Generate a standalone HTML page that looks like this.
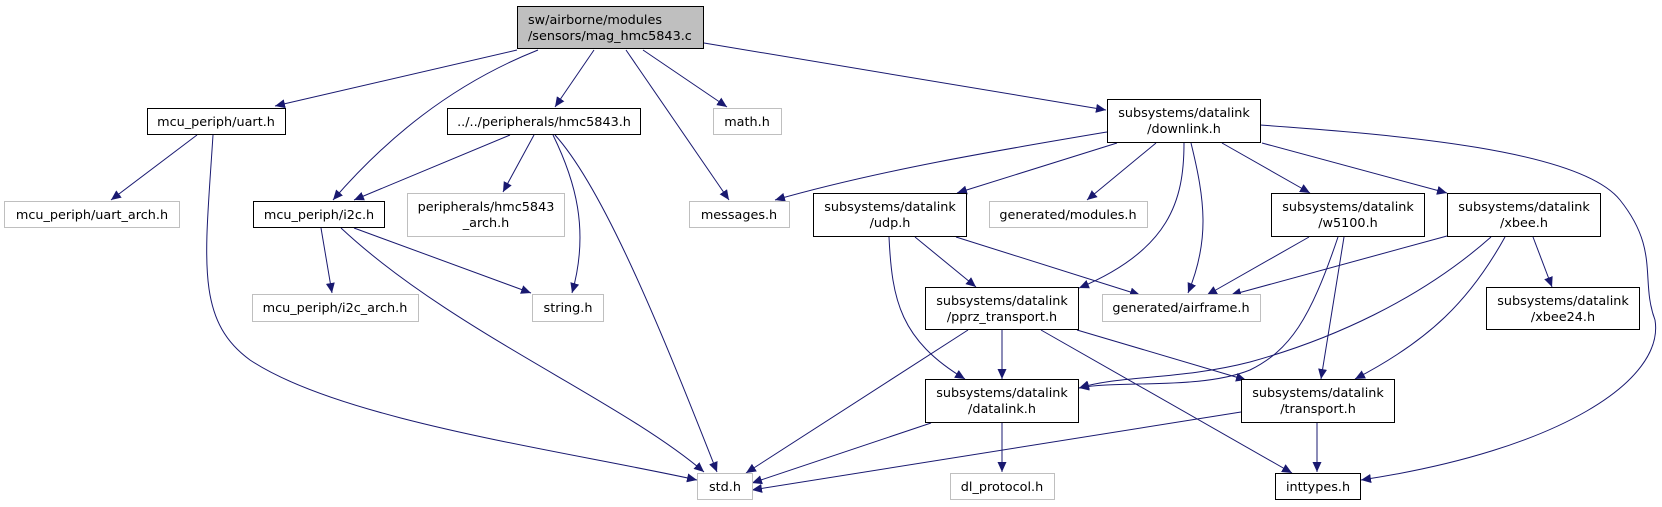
<!DOCTYPE html>
<html><head><meta charset="utf-8"><style>
html,body{margin:0;padding:0;background:#fff;}
svg{display:block;}
text{font-family:"DejaVu Sans","Liberation Sans",sans-serif;font-size:12.8px;fill:#000;}
</style></head><body>
<svg width="1662" height="507" viewBox="0 0 1662 507" xmlns="http://www.w3.org/2000/svg">
<defs>
<marker id="a" markerUnits="userSpaceOnUse" markerWidth="11" markerHeight="9" refX="10" refY="4.5" orient="auto">
<path d="M0,0 L10,4.5 L0,9 Z" fill="#191970"/>
</marker>
</defs>
<g fill="none" stroke="#191970" stroke-width="1" marker-end="url(#a)">
<path d="M517,50 L275,106"/>
<path d="M538,50 C450,85 385,140 333,200"/>
<path d="M594,50 L555,107"/>
<path d="M626,50 L729,200"/>
<path d="M643,50 L727,107"/>
<path d="M704,43 L1106,110"/>
<path d="M197,135 L111,200"/>
<path d="M213,135 C205,260 195,320 250,360 C340,420 560,450 697,480"/>
<path d="M510,135 L354,200"/>
<path d="M534,135 L503,192"/>
<path d="M553,135 C575,180 590,230 572,293"/>
<path d="M555,135 C605,190 665,340 717,472"/>
<path d="M321,228 L332,293"/>
<path d="M354,228 L531,293"/>
<path d="M341,228 C450,330 620,400 704,472"/>
<path d="M1107,132 C1000,150 880,170 775,200"/>
<path d="M1117,143 L957,193"/>
<path d="M1156,143 L1087,200"/>
<path d="M1184,143 C1184,200 1170,250 1079,288"/>
<path d="M1191,143 C1205,200 1210,240 1188,293"/>
<path d="M1222,143 L1310,193"/>
<path d="M1262,143 L1447,193"/>
<path d="M1260,125 C1400,135 1580,150 1620,200 C1660,250 1640,280 1655,320 C1665,380 1560,450 1361,480"/>
<path d="M915,237 L976,287"/>
<path d="M956,237 L1140,295"/>
<path d="M889,237 C892,300 900,340 965,379"/>
<path d="M1309,237 L1207,295"/>
<path d="M1338,237 C1310,320 1290,350 1250,370 C1200,390 1120,380 1079,388"/>
<path d="M1344,237 L1321,379"/>
<path d="M1447,236 L1231,295"/>
<path d="M1491,237 C1420,300 1330,340 1250,362 C1180,380 1120,375 1079,388"/>
<path d="M1505,237 C1470,300 1430,340 1355,379"/>
<path d="M1533,237 L1552,287"/>
<path d="M1002,330 L1002,379"/>
<path d="M968,330 L746,473"/>
<path d="M1077,330 L1246,380"/>
<path d="M1041,330 L1292,473"/>
<path d="M931,423 L752,483"/>
<path d="M1002,423 L1002,472"/>
<path d="M1241,412 L752,490"/>
<path d="M1317,423 L1317,472"/>
</g>
<g stroke-width="1">
<rect x="517.5" y="6.5" width="186" height="42" fill="#bfbfbf" stroke="#000"/>
<text x="528" y="24">sw/airborne/modules</text>
<text x="528" y="40">/sensors/mag_hmc5843.c</text>

<rect x="147.5" y="108.5" width="138" height="26" fill="#fff" stroke="#000"/>
<text x="216" y="126" text-anchor="middle">mcu_periph/uart.h</text>
<rect x="447.5" y="108.5" width="193" height="26" fill="#fff" stroke="#000"/>
<text x="544" y="126" text-anchor="middle">../../peripherals/hmc5843.h</text>
<rect x="713.5" y="108.5" width="68" height="26" fill="#fff" stroke="#bfbfbf"/>
<text x="747" y="126" text-anchor="middle">math.h</text>
<rect x="1107.5" y="99.5" width="153" height="43" fill="#fff" stroke="#000"/>
<text x="1184" y="117" text-anchor="middle">subsystems/datalink</text>
<text x="1184" y="133" text-anchor="middle">/downlink.h</text>

<rect x="4.5" y="201.5" width="175" height="26" fill="#fff" stroke="#bfbfbf"/>
<text x="92" y="219" text-anchor="middle">mcu_periph/uart_arch.h</text>
<rect x="253.5" y="201.5" width="131" height="26" fill="#fff" stroke="#000"/>
<text x="319" y="219" text-anchor="middle">mcu_periph/i2c.h</text>
<rect x="407.5" y="193.5" width="157" height="43" fill="#fff" stroke="#bfbfbf"/>
<text x="486" y="211" text-anchor="middle">peripherals/hmc5843</text>
<text x="486" y="227" text-anchor="middle">_arch.h</text>
<rect x="689.5" y="201.5" width="100" height="26" fill="#fff" stroke="#bfbfbf"/>
<text x="739" y="219" text-anchor="middle">messages.h</text>
<rect x="813.5" y="193.5" width="153" height="43" fill="#fff" stroke="#000"/>
<text x="890" y="211" text-anchor="middle">subsystems/datalink</text>
<text x="890" y="227" text-anchor="middle">/udp.h</text>
<rect x="989.5" y="201.5" width="158" height="26" fill="#fff" stroke="#bfbfbf"/>
<text x="1068" y="219" text-anchor="middle">generated/modules.h</text>
<rect x="1271.5" y="193.5" width="153" height="43" fill="#fff" stroke="#000"/>
<text x="1348" y="211" text-anchor="middle">subsystems/datalink</text>
<text x="1348" y="227" text-anchor="middle">/w5100.h</text>
<rect x="1447.5" y="193.5" width="153" height="43" fill="#fff" stroke="#000"/>
<text x="1524" y="211" text-anchor="middle">subsystems/datalink</text>
<text x="1524" y="227" text-anchor="middle">/xbee.h</text>

<rect x="252.5" y="294.5" width="166" height="27" fill="#fff" stroke="#bfbfbf"/>
<text x="335" y="312" text-anchor="middle">mcu_periph/i2c_arch.h</text>
<rect x="532.5" y="294.5" width="71" height="27" fill="#fff" stroke="#bfbfbf"/>
<text x="568" y="312" text-anchor="middle">string.h</text>
<rect x="925.5" y="287.5" width="153" height="42" fill="#fff" stroke="#000"/>
<text x="1002" y="305" text-anchor="middle">subsystems/datalink</text>
<text x="1002" y="321" text-anchor="middle">/pprz_transport.h</text>
<rect x="1102.5" y="294.5" width="158" height="27" fill="#fff" stroke="#bfbfbf"/>
<text x="1181" y="312" text-anchor="middle">generated/airframe.h</text>
<rect x="1486.5" y="287.5" width="153" height="42" fill="#fff" stroke="#000"/>
<text x="1563" y="305" text-anchor="middle">subsystems/datalink</text>
<text x="1563" y="321" text-anchor="middle">/xbee24.h</text>

<rect x="925.5" y="379.5" width="153" height="43" fill="#fff" stroke="#000"/>
<text x="1002" y="397" text-anchor="middle">subsystems/datalink</text>
<text x="1002" y="413" text-anchor="middle">/datalink.h</text>
<rect x="1241.5" y="379.5" width="153" height="43" fill="#fff" stroke="#000"/>
<text x="1318" y="397" text-anchor="middle">subsystems/datalink</text>
<text x="1318" y="413" text-anchor="middle">/transport.h</text>

<rect x="697.5" y="473.5" width="55" height="26" fill="#fff" stroke="#bfbfbf"/>
<text x="725" y="491" text-anchor="middle">std.h</text>
<rect x="950.5" y="473.5" width="104" height="26" fill="#fff" stroke="#bfbfbf"/>
<text x="1002" y="491" text-anchor="middle">dl_protocol.h</text>
<rect x="1275.5" y="473.5" width="85" height="26" fill="#fff" stroke="#000"/>
<text x="1318" y="491" text-anchor="middle">inttypes.h</text>
</g>
</svg>
</body></html>
